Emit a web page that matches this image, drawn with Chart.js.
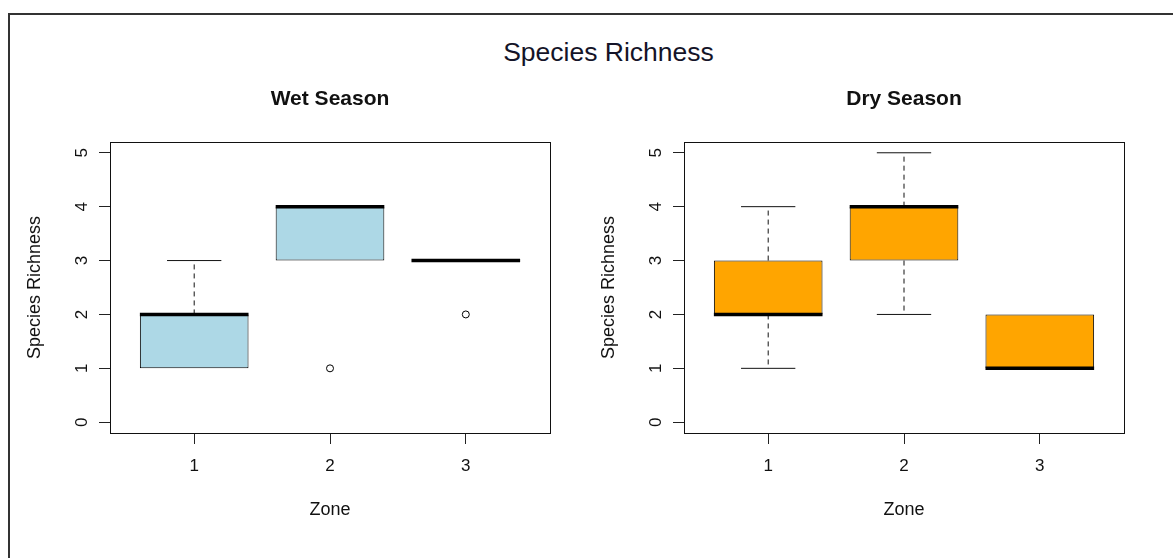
<!DOCTYPE html>
<html>
<head>
<meta charset="utf-8">
<title>Species Richness</title>
<script src="https://cdn.jsdelivr.net/npm/chart.js@4.4.1/dist/chart.umd.min.js"></script>
<style>
  html, body { margin: 0; padding: 0; background: #fff; }
  #page { position: relative; width: 1173px; height: 558px; overflow: hidden; background: #fff; }
  #frame { position: absolute; left: 8px; top: 13px; width: 1200px; height: 600px;
           border-left: 2px solid #333; border-top: 2px solid #333; }
  #title { position: absolute; left: 608.5px; top: 39px; transform: translateX(-50%);
           font: 26.5px/26.5px "Liberation Sans", Arial, sans-serif; color: #141428; white-space: nowrap; }
  .panel { position: absolute; top: 0; width: 574px; height: 558px; }
  .panel canvas { display: block; }
</style>
</head>
<body>
<div id="page">
  <div id="frame"></div>
  <div id="title">Species Richness</div>
  <div class="panel" style="left:0"><canvas id="wet" width="574" height="558"></canvas></div>
  <div class="panel" style="left:574px"><canvas id="dry" width="574" height="558"></canvas></div>
</div>
<script>
// Zones on the x axis and tick values on the y axis
const zones = [1, 2, 3];
const yTicks = [0, 1, 2, 3, 4, 5];

// Wet season: whisker ends, quartiles and medians per zone
const wetLower  = [1, 3, 3];
const wetQ1     = [1, 3, 3];
const wetMedian = [2, 4, 3];
const wetQ3     = [2, 4, 3];
const wetUpper  = [3, 4, 3];
const wetOutliers = [[], [1], [2]];

// Dry season: whisker ends, quartiles and medians per zone
const dryLower  = [1, 2, 1];
const dryQ1     = [2, 3, 1];
const dryMedian = [2, 4, 1];
const dryQ3     = [3, 4, 2];
const dryUpper  = [4, 5, 2];
const dryOutliers = [[], [], []];

const FONT = '"Liberation Sans", Arial, sans-serif';
Chart.defaults.font.family = FONT;
Chart.defaults.color = '#111';

const BOX_HALF = 0.4;     // half of the box width, in zone units
const STAPLE_HALF = 0.2;  // half of the whisker cap width

// Turn [x0, y0, x1, y1] segments into one line series broken by gaps
function segmentPoints(list) {
  const pts = [];
  list.forEach(([x0, y0, x1, y1]) => {
    pts.push({ x: x0, y: y0 }, { x: x1, y: y1 }, { x: x1, y: null });
  });
  return pts;
}

function boxDatasets(lower, q1, med, q3, upper, outliers, fill) {
  const lineBase = { type: 'line', pointRadius: 0, borderCapStyle: 'butt', tension: 0, spanGaps: false, fill: false };
  // whiskers that have length (a zero-length whisker sits on the box edge)
  const whiskers = zones.flatMap((z, i) => [[z, q3[i], upper[i]], [z, q1[i], lower[i]]])
                        .filter(([, from, to]) => from !== to);
  return [
    Object.assign({}, lineBase, {
      label: 'outliers', order: 0, showLine: false,
      data: zones.flatMap((z, i) => outliers[i].map(v => ({ x: z, y: v }))),
      pointRadius: 3.5, pointStyle: 'circle', pointBorderWidth: 1,
      pointBorderColor: '#000', pointBackgroundColor: 'rgba(0,0,0,0)'
    }),
    Object.assign({}, lineBase, {
      label: 'median', order: 1, borderWidth: 3.5, borderColor: '#000',
      data: segmentPoints(zones.map((z, i) => [z - BOX_HALF, med[i], z + BOX_HALF, med[i]]))
    }),
    {
      type: 'bar', label: 'box', order: 2,
      data: zones.map((z, i) => ({ x: z, y: [q1[i], q3[i]] })),
      backgroundColor: fill, borderColor: '#000', borderWidth: 1, borderSkipped: false,
      barPercentage: 0.8, categoryPercentage: 1.0
    },
    Object.assign({}, lineBase, {
      label: 'whiskers', order: 3, borderWidth: 1, borderColor: '#111', borderDash: [5, 4],
      data: segmentPoints(whiskers.map(([z, from, to]) => [z, from, z, to]))
    }),
    Object.assign({}, lineBase, {
      label: 'staples', order: 3, borderWidth: 1, borderColor: '#111',
      data: segmentPoints(whiskers.map(([z, , to]) => [z - STAPLE_HALF, to, z + STAPLE_HALF, to]))
    })
  ];
}

// Plot frame around the panel's plotting region
const frameBox = {
  id: 'frameBox',
  afterDatasetsDraw(chart) {
    const a = chart.chartArea, ctx = chart.ctx;
    ctx.save();
    ctx.strokeStyle = '#111';
    ctx.lineWidth = 1;
    ctx.strokeRect(Math.round(a.left) + 0.5, Math.round(a.top) + 0.5,
                   Math.round(a.right - a.left), Math.round(a.bottom - a.top));
    ctx.restore();
  }
};

function makePanel(id, title, datasets) {
  return new Chart(document.getElementById(id), {
    type: 'bar',
    data: { datasets },
    plugins: [frameBox],
    options: {
      responsive: false,
      animation: false,
      events: [],
      layout: { padding: { top: 0, right: 24, bottom: 0, left: 0 } },
      plugins: {
        legend: { display: false },
        tooltip: { enabled: false },
        title: {
          display: true, text: title, fullSize: false, color: '#111',
          font: { size: 21, weight: 'bold', lineHeight: 1.2 },
          padding: { top: 86.4, bottom: 30.4 }
        }
      },
      scales: {
        x: {
          type: 'linear', min: 0.38, max: 3.62, offset: false,
          afterBuildTicks: s => { s.ticks = zones.map(v => ({ value: v })); },
          afterFit: s => { s.height = 125; },
          grid: { display: true, drawOnChartArea: false, drawTicks: true, tickLength: 11, offset: false, color: '#222', lineWidth: 1 },
          border: { display: false },
          ticks: { font: { size: 17, lineHeight: 1.2 }, padding: 12, color: '#111', maxRotation: 0 },
          title: { display: true, text: 'Zone', font: { size: 18, lineHeight: 1.2 }, color: '#111', padding: { top: 0, bottom: 37.2 } }
        },
        y: {
          type: 'linear', min: -0.2, max: 5.2,
          afterBuildTicks: s => { s.ticks = yTicks.map(v => ({ value: v })); },
          afterFit: s => { s.width = 110; },
          grid: { display: true, drawOnChartArea: false, drawTicks: true, tickLength: 11, color: '#222', lineWidth: 1 },
          border: { display: false },
          ticks: { font: { size: 17, lineHeight: 1.2 }, padding: 12, color: '#111',
                   minRotation: 90, maxRotation: 90, crossAlign: 'center' },
          title: { display: true, text: 'Species Richness', font: { size: 18, lineHeight: 1.2 }, color: '#111',
                   padding: { top: 24.2, bottom: 0 } }
        }
      }
    }
  });
}

makePanel('wet', 'Wet Season', boxDatasets(wetLower, wetQ1, wetMedian, wetQ3, wetUpper, wetOutliers, '#ADD8E6'));
makePanel('dry', 'Dry Season', boxDatasets(dryLower, dryQ1, dryMedian, dryQ3, dryUpper, dryOutliers, '#FFA500'));
</script>
</body>
</html>
